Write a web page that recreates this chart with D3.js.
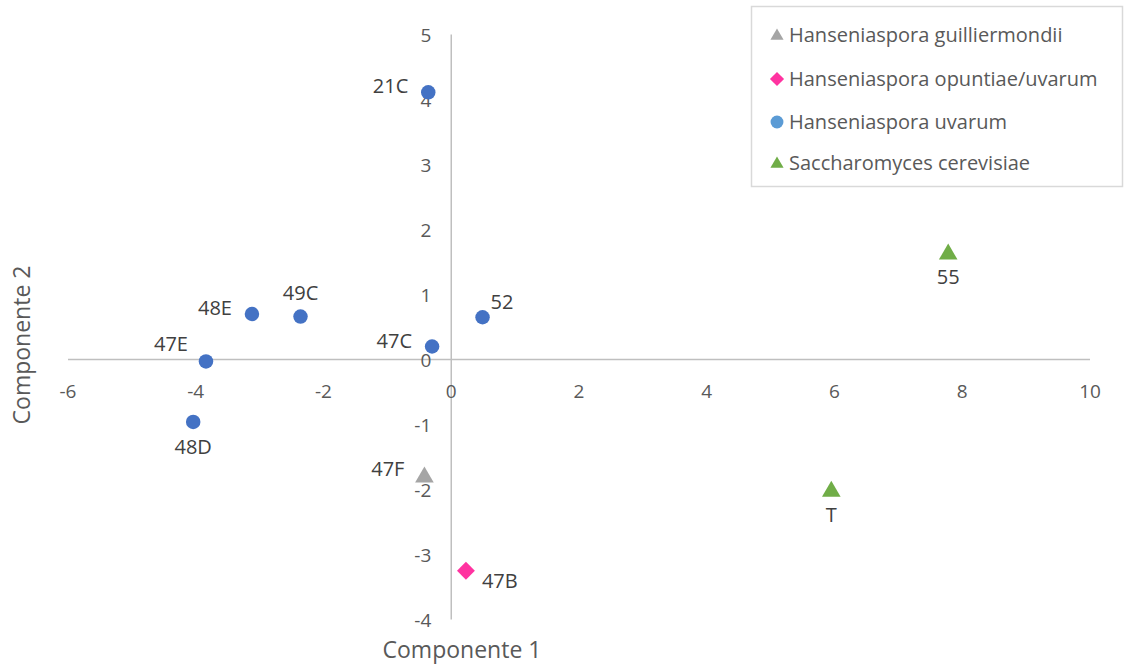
<!DOCTYPE html>
<html><head><meta charset="utf-8">
<script src="https://cdn.jsdelivr.net/npm/d3@7"></script>
<style>body{margin:0;background:#fff}svg{display:block}text{font-family:"Open Sans",sans-serif}</style>
</head><body><svg id="c" width="1126" height="666"></svg>
<script>
const seriesNames = ["Hanseniaspora guilliermondii","Hanseniaspora opuntiae/uvarum","Hanseniaspora uvarum","Saccharomyces cerevisiae"];
const seriesColors = ["#A5A5A5","#FF33A0","#4472C4","#70AD47"];
const legendColors = ["#A5A5A5","#FF33A0","#5B9BD5","#70AD47"];
const seriesShapes = ["triangle","diamond","circle","triangle"];
const pointLabels = ["47F","47B","21C","48E","49C","52","47C","47E","48D","T","55"];
const pointSeries = [0,1,2,2,2,2,2,2,2,3,3];
const xValues = [-0.42,0.23,-0.36,-3.12,-2.36,0.49,-0.30,-3.84,-4.04,5.95,7.78];
const yValues = [-1.78,-3.25,4.11,0.70,0.66,0.65,0.20,-0.03,-0.96,-2.00,1.65];
const labelPos = ["left","right-below","left","left","above","right-above","left","left-above","below","below","below"];
const xTicks = [-6,-4,-2,0,2,4,6,8,10];
const yTicks = [-4,-3,-2,-1,0,1,2,3,4,5];

const svg = d3.select("#c");
const x = d3.scaleLinear().domain([-6,10]).range([68,1090]);
const y = d3.scaleLinear().domain([-4,5]).range([619.5,34.5]);
const axisColor = "#BFBFBF", textColor = "#595959", labelColor = "#404040";

svg.append("line").attr("x1",x(-6)).attr("x2",x(10)).attr("y1",y(0)).attr("y2",y(0)).attr("stroke",axisColor).attr("stroke-width",1.5);
svg.append("line").attr("x1",x(0)).attr("x2",x(0)).attr("y1",y(5)).attr("y2",y(-4)).attr("stroke",axisColor).attr("stroke-width",1.5);

svg.append("g").selectAll("text").data(xTicks).join("text")
  .attr("x",d=>x(d)).attr("y",y(0)+38).attr("text-anchor","middle")
  .attr("font-size",19).attr("fill",textColor).text(d=>d);
svg.append("g").selectAll("text").data(yTicks).join("text")
  .attr("x",x(0)-20).attr("y",d=>y(d)+7).attr("text-anchor","end")
  .attr("font-size",19).attr("fill",textColor).text(d=>d);

svg.append("text").attr("x",462).attr("y",658).attr("text-anchor","middle")
  .attr("font-size",23).attr("fill",textColor).text("Componente 1");
svg.append("text").attr("transform","translate(30,345) rotate(-90)").attr("text-anchor","middle")
  .attr("font-size",23).attr("fill",textColor).text("Componente 2");

function shapePath(shape, size){
  const t = {triangle:d3.symbolTriangle, diamond:d3.symbolSquare, circle:d3.symbolCircle}[shape];
  return d3.symbol().type(t).size(size)();
}
const markerSize = {triangle:150, diamond:160, circle:165};

const pts = pointLabels.map((l,i)=>({l,s:pointSeries[i],x:xValues[i],y:yValues[i],p:labelPos[i]}));
svg.append("g").selectAll("path").data(pts).join("path")
  .attr("d",d=>shapePath(seriesShapes[d.s], markerSize[seriesShapes[d.s]]))
  .attr("transform",d=>{
    const sh = seriesShapes[d.s];
    const dy = sh==="triangle" ? 2 : 0;
    return `translate(${x(d.x)},${y(d.y)+dy})` + (sh==="diamond"?" rotate(45)":"");
  })
  .attr("fill",d=>seriesColors[d.s]);

const off = {
  "left":[-20,1,"end"], "right-below":[16,17,"start"], "above":[0,-16.5,"middle"],
  "right-above":[8,-8,"start"], "left-above":[-35,-10.5,"middle"], "below":[0,32,"middle"]
};
svg.append("g").selectAll("text").data(pts).join("text")
  .attr("x",d=>x(d.x)+off[d.p][0]).attr("y",d=>y(d.y)+off[d.p][1])
  .attr("text-anchor",d=>off[d.p][2]).attr("font-size",20).attr("fill",labelColor).text(d=>d.l);

const lg = svg.append("g");
lg.append("rect").attr("x",751.5).attr("y",6.5).attr("width",371).attr("height",180)
  .attr("fill","#fff").attr("stroke","#D9D9D9").attr("stroke-width",1.5);
const rows = [35,79,122,163];
seriesNames.forEach((n,i)=>{
  const sh = seriesShapes[i];
  lg.append("path").attr("d",shapePath(sh, sh==="circle"?130:sh==="diamond"?100:75))
    .attr("transform",`translate(777,${rows[i]+ (sh==="triangle"?1:0)})`+(sh==="diamond"?" rotate(45)":""))
    .attr("fill",legendColors[i]);
  lg.append("text").attr("x",789).attr("y",rows[i]+7).attr("font-size",20).attr("fill",textColor).text(n);
});
</script></body></html>
